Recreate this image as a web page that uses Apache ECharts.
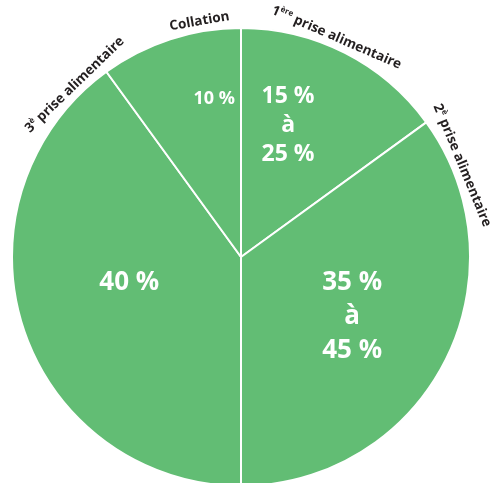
<!DOCTYPE html>
<html>
<head>
<meta charset="utf-8">
<script src="https://cdn.jsdelivr.net/npm/echarts@6/dist/echarts.min.js"></script>
<style>
  html, body { margin: 0; padding: 0; background: #ffffff; }
  #chart { width: 492px; height: 483px; }
</style>
</head>
<body>
<div id="chart"></div>
<script>
// Daily intake split across meals
const mealNames = ['1ère prise alimentaire', '2è prise alimentaire', '3è prise alimentaire', 'Collation'];
const mealShares = [15, 35, 40, 10];
const shareTexts = ['15 %\nà\n25 %', '35 %\nà\n45 %', '40 %', '10 %'];
// name pieces: ordinal, superscript suffix, remainder
const nameOrdinals = ['1', '2', '3', ''];
const nameSuffixes = ['ère', 'è', 'è', ''];
const nameRest = [' prise alimentaire', ' prise alimentaire', ' prise alimentaire', 'Collation'];

// ---- layout ----
const CX = 241, CY = 257, R = 229;
const FONT = 'Open Sans';
const GREEN = '#62bd74';
// [angle clockwise from 12 o'clock in degrees, distance from centre as a fraction of R]
const namePlacement = [[23.5, 1.045], [67.5, 1.045], [-44, 1.045], [-10, 1.045]];
const valuePlacement = [[19.7, 0.61], [118, 0.55], [257.3, 0.5], [-9.6, 0.70]];

function polar(deg, f) {
  const a = deg * Math.PI / 180;
  return { x: CX + f * R * Math.sin(a), y: CY - f * R * Math.cos(a) };
}

function esc(s) { return s.replace(/\|/g, ''); }

const valueFonts = [
  { fontSize: 23, lineHeight: 29 },
  { fontSize: 26, lineHeight: 34 },
  { fontSize: 26, lineHeight: 34 },
  { fontSize: 18, lineHeight: 20 }
];

const chart = echarts.init(document.getElementById('chart'), null, { renderer: 'canvas' });

chart.setOption({
  animation: false,
  backgroundColor: '#ffffff',
  series: [
    {
      type: 'pie',
      center: [CX, CY],
      radius: R,
      startAngle: 90,
      clockwise: true,
      avoidLabelOverlap: false,
      emphasis: { disabled: true },
      silent: true,
      itemStyle: { color: GREEN, borderColor: '#ffffff', borderWidth: 2 },
      labelLine: { show: false },
      data: mealNames.map((n, i) => ({
        name: n,
        value: mealShares[i],
        label: valueFonts[i]
      })),
      label: {
        show: true,
        position: 'inside',
        formatter: p => shareTexts[p.dataIndex],
        color: '#ffffff',
        fontFamily: FONT,
        fontWeight: 'bold',
        align: 'center'
      },
      labelLayout: p => {
        const pt = polar(valuePlacement[p.dataIndex][0], valuePlacement[p.dataIndex][1]);
        return { x: pt.x, y: pt.y, align: 'center', verticalAlign: 'middle' };
      }
    },
    {
      type: 'pie',
      center: [CX, CY],
      radius: R,
      startAngle: 90,
      clockwise: true,
      avoidLabelOverlap: false,
      emphasis: { disabled: true },
      silent: true,
      itemStyle: { color: 'rgba(0,0,0,0)', borderWidth: 0 },
      labelLine: { show: false },
      data: mealNames.map((n, i) => ({ name: n, value: mealShares[i] })),
      label: {
        show: true,
        position: 'inside',
        formatter: p => {
          const i = p.dataIndex;
          let s = '';
          if (nameOrdinals[i]) s += '{n|' + nameOrdinals[i] + '}';
          if (nameSuffixes[i]) s += '{s|' + nameSuffixes[i] + '}';
          s += '{n|' + esc(nameRest[i]) + '}';
          return s;
        },
        rich: {
          n: { fontFamily: FONT, fontWeight: 'bold', fontSize: 13.5, color: '#231f20', lineHeight: 16 },
          s: { fontFamily: FONT, fontWeight: 'bold', fontSize: 8, color: '#231f20', lineHeight: 16, verticalAlign: 'top' }
        }
      },
      labelLayout: p => {
        const pl = namePlacement[p.dataIndex];
        const pt = polar(pl[0], pl[1]);
        return { x: pt.x, y: pt.y, rotate: -pl[0], align: 'center', verticalAlign: 'middle' };
      }
    }
  ]
});
</script>
</body>
</html>
